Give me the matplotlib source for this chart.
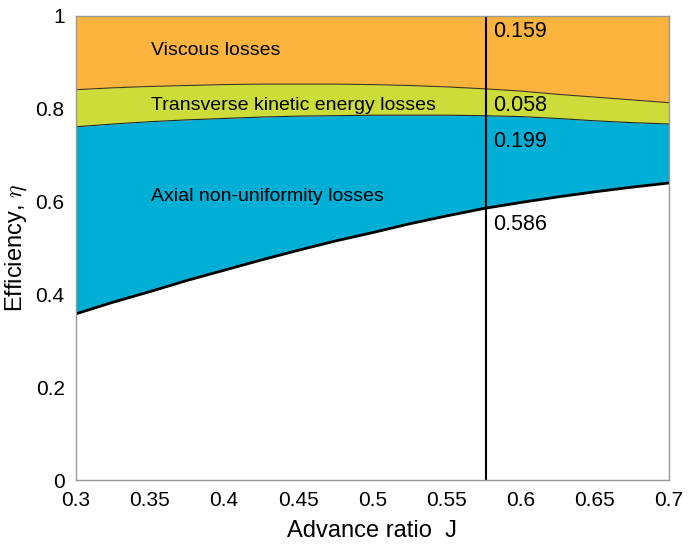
import matplotlib
matplotlib.use("Agg")
import matplotlib.pyplot as plt
import numpy as np

plt.rcParams['font.family'] = ['Liberation Sans', 'DejaVu Sans']
plt.rcParams['mathtext.fontset'] = 'cm'

# advance ratio and efficiency breakdown
J = np.array([0.300, 0.325, 0.350, 0.375, 0.400, 0.425, 0.450, 0.475, 0.500,
              0.525, 0.550, 0.575, 0.600, 0.625, 0.650, 0.675, 0.700])
eta = np.array([0.358, 0.383, 0.406, 0.430, 0.452, 0.474, 0.495, 0.515, 0.533,
                0.552, 0.569, 0.585, 0.598, 0.610, 0.621, 0.631, 0.640])
axial_top = np.array([0.761, 0.767, 0.772, 0.776, 0.779, 0.782, 0.784, 0.785, 0.786,
                      0.786, 0.786, 0.785, 0.783, 0.779, 0.774, 0.770, 0.767])
transverse_top = np.array([0.841, 0.845, 0.848, 0.850, 0.852, 0.853, 0.853, 0.853, 0.852,
                           0.850, 0.847, 0.843, 0.838, 0.831, 0.825, 0.819, 0.813])

J_design = 0.5766
design_values = [0.159, 0.058, 0.199, 0.586]
design_label_y = [0.966, 0.808, 0.730, 0.550]

fig = plt.figure(figsize=(6.89, 5.48), dpi=100)
ax = fig.add_axes([0.110, 0.124, 0.861, 0.847])

ax.fill_between(J, transverse_top, 1.0, color="#FDB43E", lw=0)
ax.fill_between(J, axial_top, transverse_top, color="#CDDC39", lw=0)
ax.fill_between(J, eta, axial_top, color="#00AFD6", lw=0)
ax.plot(J, transverse_top, color="#3a3a1a", lw=0.8)
ax.plot(J, axial_top, color="#1a2a30", lw=0.8)
ax.plot(J, eta, color="black", lw=2)
ax.axvline(J_design, color="black", lw=1.5)

ax.text(0.351, 0.925, "Viscous losses", fontsize=14, va="center")
ax.text(0.351, 0.808, "Transverse kinetic energy losses", fontsize=14, va="center")
ax.text(0.351, 0.610, "Axial non-uniformity losses", fontsize=14, va="center")
for v, yy in zip(design_values, design_label_y):
    ax.text(J_design + 0.005, yy, f"{v:.3f}", fontsize=15.5, va="center")

ax.set_xlim(0.3, 0.7)
ax.set_ylim(0, 1)
ax.set_xticks(np.arange(0.3, 0.701, 0.05))
ax.set_xticklabels(["0.3", "0.35", "0.4", "0.45", "0.5", "0.55", "0.6", "0.65", "0.7"])
ax.set_yticks([0, 0.2, 0.4, 0.6, 0.8, 1])
ax.set_yticklabels(["0", "0.2", "0.4", "0.6", "0.8", "1"])
ax.tick_params(length=0, labelsize=15)
ax.tick_params(axis="x", pad=8)
ax.tick_params(axis="y", pad=8)
for s in ax.spines.values():
    s.set_color("#999999")
    s.set_linewidth(1)

ax.set_xlabel("Advance ratio  J", fontsize=17, labelpad=7)
ax.set_ylabel(r"Efficiency, $\eta$", fontsize=17, labelpad=5)

fig.savefig("out.png", dpi=100)
